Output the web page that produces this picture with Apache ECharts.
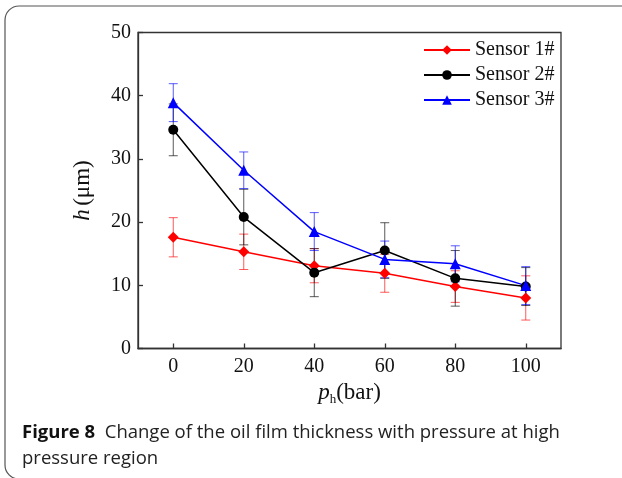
<!DOCTYPE html>
<html>
<head>
<meta charset="utf-8">
<script src="https://cdn.jsdelivr.net/npm/echarts@6/dist/echarts.min.js"></script>
<style>
  html, body { margin: 0; padding: 0; background: #fff; }
  #chart { width: 622px; height: 478px; }
</style>
</head>
<body>
<div id="chart"></div>
<script>
// pressure p_h (bar)
const pressure = [0, 20, 40, 60, 80, 100]
const xTicks = [0, 20, 40, 60, 80, 100]

// film thickness h (um) and error half-widths
const sensor1 = [17.6, 15.3, 13.1, 11.9, 9.8, 8.0]
const sensor1Err = [3.1, 2.8, 2.7, 3.0, 2.5, 3.5]
const sensor2 = [34.6, 20.8, 12.0, 15.5, 11.1, 9.8]
const sensor2Err = [4.1, 4.4, 3.8, 4.4, 4.4, 3.0]
const sensor3 = [38.9, 28.2, 18.5, 14.1, 13.4, 9.95]
const sensor3Err = [3.0, 2.9, 3.0, 2.9, 2.85, 3.0]

const names = ['Sensor 1#', 'Sensor 2#', 'Sensor 3#']
const colors = ['#ff0000', '#000000', '#0000ff']
const symbols = ['diamond', 'circle', 'triangle']
const symbolSizes = [11, 10, 11]

const serif = '"Liberation Serif", "DejaVu Serif", serif'
const sans = '"Open Sans", "Noto Sans", sans-serif'

function pairs(values) {
    return pressure.map((p, i) => [p, values[i]])
}

function errorSeries(values, errs, color) {
    return {
        type: 'custom',
        z: 1,
        silent: true,
        data: pressure.map((p, i) => [p, values[i], errs[i]]),
        renderItem(params, api) {
            const x = api.value(0)
            const y = api.value(1)
            const e = api.value(2)
            const top = api.coord([x, y + e])
            const bot = api.coord([x, y - e])
            const hw = 4.5
            const style = { stroke: color, lineWidth: 1, opacity: 0.65 }
            return {
                type: 'group',
                children: [
                    { type: 'line', shape: { x1: top[0], y1: top[1], x2: bot[0], y2: bot[1] }, style },
                    { type: 'line', shape: { x1: top[0] - hw, y1: top[1], x2: top[0] + hw, y2: top[1] }, style },
                    { type: 'line', shape: { x1: bot[0] - hw, y1: bot[1], x2: bot[0] + hw, y2: bot[1] }, style }
                ]
            }
        }
    }
}

function lineSeries(i, values) {
    return {
        name: names[i],
        type: 'line',
        z: 3,
        data: pairs(values),
        symbol: symbols[i],
        symbolSize: symbolSizes[i],
        itemStyle: { color: colors[i] },
        lineStyle: { color: colors[i], width: 1.5 }
    }
}

const axisLineStyle = { color: '#333', width: 1.3 }

const option = {
    animation: false,
    backgroundColor: '#fff',
    grid: {
        left: 138, right: 61, top: 32.5, bottom: 129.5,
        show: true, borderColor: '#333', borderWidth: 1.3
    },
    legend: {
        data: names,
        left: 418, top: 35,
        orient: 'vertical',
        itemWidth: 46, itemHeight: 12, itemGap: 5,
        textStyle: { fontFamily: serif, fontSize: 20, color: '#111' }
    },
    xAxis: {
        type: 'value',
        min: -10, max: 110,
        splitLine: { show: false },
        axisLine: { onZero: false, lineStyle: axisLineStyle },
        axisTick: { inside: true, length: 5, lineStyle: axisLineStyle, customValues: xTicks },
        axisLabel: { customValues: xTicks, fontFamily: serif, fontSize: 20, color: '#111', margin: 8 },
        name: '{i|p}{s|h}{n|(bar)}',
        nameLocation: 'middle',
        nameGap: 29,
        nameTextStyle: {
            rich: {
                i: { fontFamily: serif, fontStyle: 'italic', fontSize: 23, color: '#111' },
                s: { fontFamily: serif, fontSize: 13, color: '#111', padding: [14, 0, 0, 0] },
                n: { fontFamily: serif, fontSize: 23, color: '#111' }
            }
        }
    },
    yAxis: {
        type: 'value',
        min: 0, max: 50, interval: 10,
        splitLine: { show: false },
        axisLine: { onZero: false, lineStyle: axisLineStyle },
        axisTick: { inside: true, length: 5, lineStyle: axisLineStyle },
        axisLabel: { fontFamily: serif, fontSize: 20, color: '#111', margin: 7 },
        name: '{i|h} {n|(μm)}',
        nameLocation: 'middle',
        nameGap: 44,
        nameTextStyle: {
            rich: {
                i: { fontFamily: serif, fontStyle: 'italic', fontSize: 23, color: '#111' },
                n: { fontFamily: serif, fontSize: 23, color: '#111' }
            }
        }
    },
    graphic: [
        {
            // figure frame, rounded on the left, runs off the right edge
            type: 'rect',
            silent: true,
            shape: { x: 5, y: 6, width: 700, height: 473, r: [14, 0, 0, 14] },
            style: { fill: 'none', stroke: '#555', lineWidth: 1.2 }
        },
        {
            type: 'text',
            left: 22, top: 420,
            style: {
                text: '{b|Figure 8}  Change of the oil film thickness with pressure at high\npressure region',
                fontFamily: sans, fontSize: 18.5, lineHeight: 26, fill: '#222',
                rich: {
                    b: { fontFamily: sans, fontSize: 18.5, fontWeight: 'bold', fill: '#111' }
                }
            }
        }
    ],
    series: [
        errorSeries(sensor1, sensor1Err, colors[0]),
        errorSeries(sensor2, sensor2Err, colors[1]),
        errorSeries(sensor3, sensor3Err, colors[2]),
        lineSeries(0, sensor1),
        lineSeries(1, sensor2),
        lineSeries(2, sensor3)
    ]
}

const chart = echarts.init(document.getElementById('chart'))
chart.setOption(option)
</script>
</body>
</html>
